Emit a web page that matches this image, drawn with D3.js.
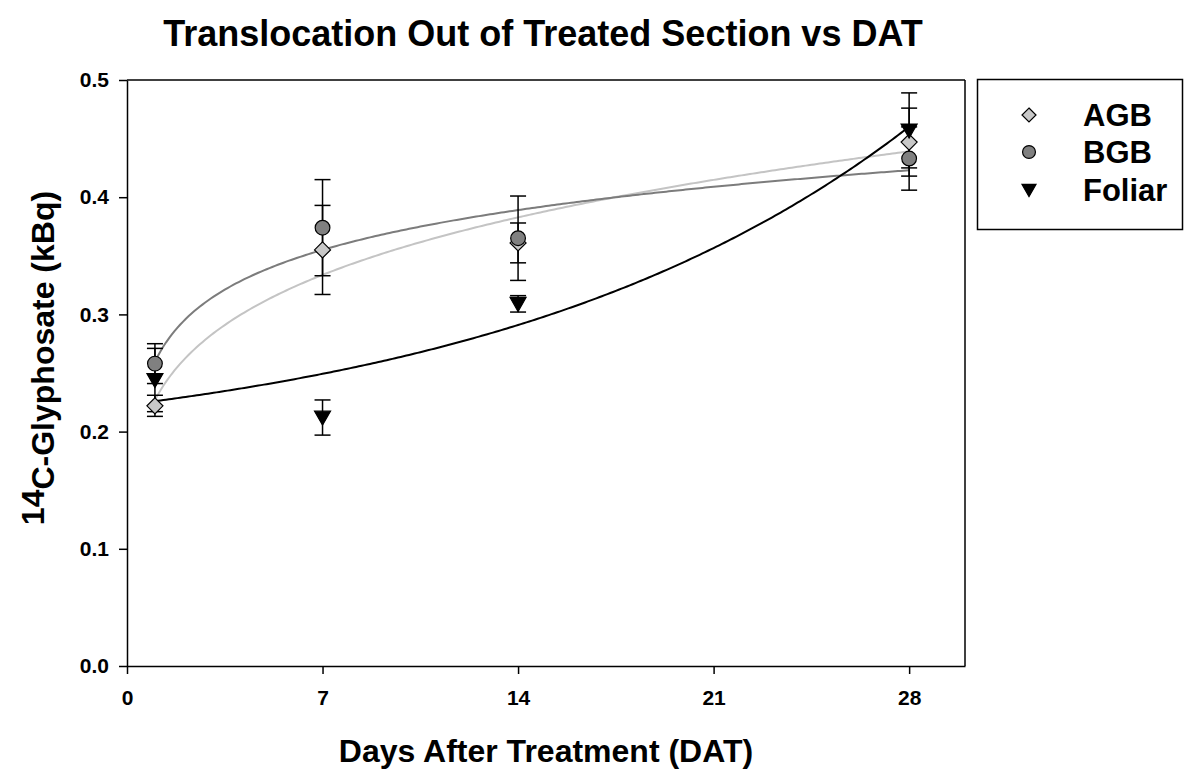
<!DOCTYPE html>
<html>
<head>
<meta charset="utf-8">
<script src="https://cdn.jsdelivr.net/npm/d3@7"></script>
<style>
  html, body { margin: 0; padding: 0; background: #fff; }
  svg { display: block; font-family: "Liberation Sans", Arial, sans-serif; }
</style>
</head>
<body>
<svg id="chart" width="1191" height="773"></svg>
<script>
// ---- data ----
const days = [1, 7, 14, 28];
const agbMean = [0.222, 0.355, 0.361, 0.447];
const agbErr  = [0.009, 0.038, 0.017, 0.029];
const bgbMean = [0.258, 0.374, 0.365, 0.433];
const bgbErr  = [0.017, 0.041, 0.036, 0.027];
const foliarMean = [0.244, 0.212, 0.309, 0.457];
const foliarErr  = [0.027, 0.015, 0.007, 0.032];
// regression curves (parameters)
const agbFit = [0.227, 0.198];            // y = a * x^b
const bgbFit = [0.2597, 0.049];           // y = a + b ln(x)
const foliarFit = [0.177, 0.04587, 0.065]; // y = y0 + a e^(b x)
const xTicks = [0, 7, 14, 21, 28];
const yTicks = [0.0, 0.1, 0.2, 0.3, 0.4, 0.5];
const seriesNames = ["AGB", "BGB", "Foliar"];

const svg = d3.select("#chart");
const pLeft = 127, pRight = 965, pTop = 80, pBottom = 666;
const x = d3.scaleLinear().domain([0, 30]).range([pLeft, pRight]);
const y = d3.scaleLinear().domain([0, 0.5]).range([pBottom, pTop]);

// frame
svg.append("line").attr("x1", pLeft).attr("x2", pRight).attr("y1", pTop).attr("y2", pTop)
  .attr("stroke", "#000").attr("stroke-width", 1.5);
svg.append("line").attr("x1", pRight).attr("x2", pRight).attr("y1", pTop).attr("y2", pBottom)
  .attr("stroke", "#000").attr("stroke-width", 1.5);

// axes
const xAxis = d3.axisBottom(x).tickValues(xTicks).tickSize(8).tickPadding(16).tickSizeOuter(0)
  .tickFormat(d3.format("d"));
const gx = svg.append("g").attr("transform", `translate(0,${pBottom})`).call(xAxis);
const yAxis = d3.axisLeft(y).tickValues(yTicks).tickSize(8).tickPadding(10).tickSizeOuter(0)
  .tickFormat(d3.format(".1f"));
const gy = svg.append("g").attr("transform", `translate(${pLeft},0)`).call(yAxis);
[gx, gy].forEach(g => {
  g.select(".domain").attr("stroke", "#000").attr("stroke-width", 1.5);
  g.selectAll(".tick line").attr("stroke", "#000").attr("stroke-width", 1.5);
  g.selectAll(".tick text").attr("fill", "#000").style("font-size", "21px")
    .style("font-weight", "bold").style("font-family", "Liberation Sans, Arial, sans-serif");
});

// curves
const curveX = d3.range(1, 28.001, 0.1);
function drawCurve(fn, color, w) {
  const line = d3.line().x(d => x(d)).y(d => y(fn(d)));
  svg.append("path").datum(curveX).attr("d", line).attr("fill", "none")
    .attr("stroke", color).attr("stroke-width", w);
}
drawCurve(d => agbFit[0] * Math.pow(d, agbFit[1]), "#c4c4c4", 2);
drawCurve(d => bgbFit[0] + bgbFit[1] * Math.log(d), "#7c7c7c", 2);
drawCurve(d => foliarFit[0] + foliarFit[1] * Math.exp(foliarFit[2] * d), "#000", 2);

// symbols
function marker(g, type, fill, s) {
  if (type === "diamond") {
    g.append("path").attr("d", `M0,${-s}L${s},0L0,${s}L${-s},0Z`)
      .attr("fill", fill).attr("stroke", "#000").attr("stroke-width", 1.2);
  } else if (type === "circle") {
    g.append("circle").attr("r", s * 0.92).attr("fill", fill).attr("stroke", "#000").attr("stroke-width", 1.2);
  } else {
    g.append("path").attr("d", `M${-s},${-s * 0.8}L${s},${-s * 0.8}L0,${s * 0.95}Z`)
      .attr("fill", fill).attr("stroke", "#000").attr("stroke-width", 1.2);
  }
}
const series = [
  { mean: agbMean, err: agbErr, type: "diamond", fill: "#c8c8c8" },
  { mean: bgbMean, err: bgbErr, type: "circle", fill: "#808080" },
  { mean: foliarMean, err: foliarErr, type: "triangle", fill: "#000" }
];
series.forEach(s => {
  const g = svg.append("g");
  days.forEach((d, i) => {
    const cx = x(d), y1 = y(s.mean[i] + s.err[i]), y2 = y(s.mean[i] - s.err[i]);
    g.append("line").attr("x1", cx).attr("x2", cx).attr("y1", y1).attr("y2", y2)
      .attr("stroke", "#000").attr("stroke-width", 1.5);
    [y1, y2].forEach(yy => g.append("line").attr("x1", cx - 8).attr("x2", cx + 8)
      .attr("y1", yy).attr("y2", yy).attr("stroke", "#000").attr("stroke-width", 1.5));
  });
});
series.forEach(s => {
  days.forEach((d, i) => {
    const g = svg.append("g").attr("transform", `translate(${x(d)},${y(s.mean[i])})`);
    marker(g, s.type, s.fill, 8);
  });
});

// title
svg.append("text").attr("x", 543).attr("y", 46).attr("text-anchor", "middle")
  .style("font-size", "36px").style("font-weight", "bold").text("Translocation Out of Treated Section vs DAT");

// x-axis title
svg.append("text").attr("x", 546).attr("y", 762).attr("text-anchor", "middle")
  .style("font-size", "32px").style("font-weight", "bold").text("Days After Treatment (DAT)");

// y-axis title
const yt = svg.append("text").attr("transform", `translate(44,358) rotate(-90)`)
  .attr("text-anchor", "middle").style("font-size", "32px").style("font-weight", "bold");
yt.append("tspan").text("14");
yt.append("tspan").attr("dy", 10).text("C-Glyphosate (kBq)");

// legend
svg.append("rect").attr("x", 977.5).attr("y", 79.5).attr("width", 205).attr("height", 150)
  .attr("fill", "#fff").attr("stroke", "#000").attr("stroke-width", 1.5);
const legendRows = [115, 152, 190];
seriesNames.forEach((name, i) => {
  const g = svg.append("g").attr("transform", `translate(1029,${legendRows[i]})`);
  marker(g, series[i].type, series[i].fill, 7);
  svg.append("text").attr("x", 1083).attr("y", legendRows[i] + 11)
    .style("font-size", "31px").style("font-weight", "bold").text(name);
});
</script>
</body>
</html>
